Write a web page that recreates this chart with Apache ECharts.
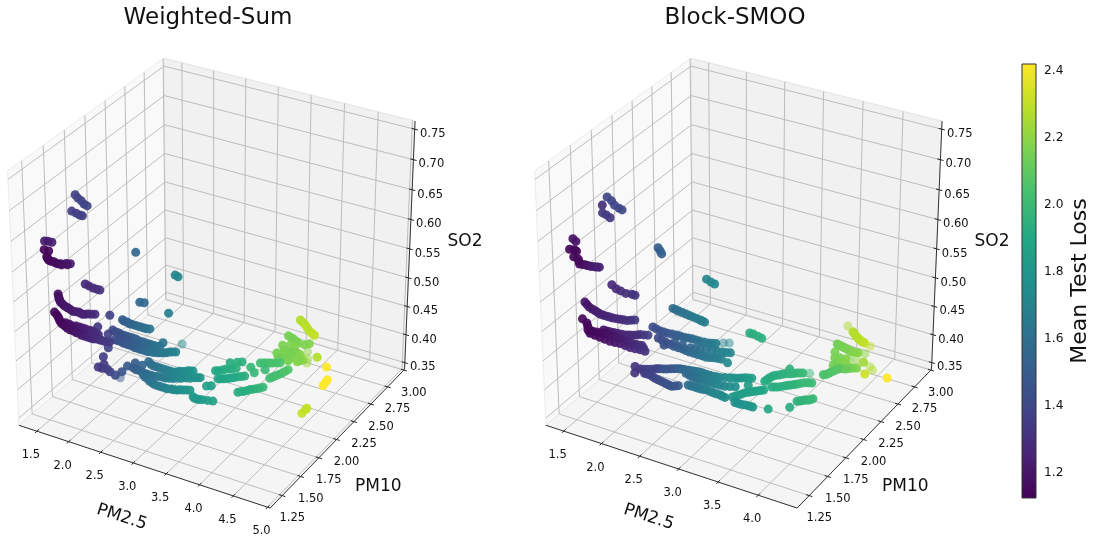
<!DOCTYPE html>
<html><head><meta charset="utf-8">
<style>html,body{margin:0;padding:0;background:#fff}#c{width:1094px;height:537px}</style>
<script src="https://cdn.jsdelivr.net/npm/echarts@6/dist/echarts.min.js"></script>
</head><body><div id="c"></div>
<script>
const FONT='"DejaVu Sans"';
const wsXTicks=[1.5,2.0,2.5,3.0,3.5,4.0,4.5,5.0];
const bsXTicks=[1.5,2.0,2.5,3.0,3.5,4.0];
const yTicks=[1.25,1.50,1.75,2.00,2.25,2.50,2.75,3.00];
const zTicks=[0.35,0.40,0.45,0.50,0.55,0.60,0.65,0.70,0.75];
const cbTicks=[1.2,1.4,1.6,1.8,2.0,2.2,2.4];

// Weighted-Sum
const wsPM25=[1.43,1.51,1.59,1.67,1.73,1.54,1.62,1.69,1.73,1.49,1.53,1.59,1.52,1.59,1.65,1.72,1.80,1.88,1.93,1.99,2.01,1.26,1.33,1.41,1.47,
1.52,1.43,1.51,1.57,1.67,1.74,1.84,1.91,1.99,2.05,2.13,1.58,1.60,1.65,1.71,1.77,1.43,1.49,2.32,1.39,1.50,1.58,1.68,1.76,1.86,
1.97,2.07,2.16,2.24,2.33,2.42,1.66,1.78,1.88,1.98,2.09,2.20,1.66,1.66,1.76,1.86,1.96,2.05,2.16,2.26,2.35,2.43,2.42,1.85,1.82,
1.92,2.02,2.11,2.22,2.32,2.40,2.49,2.56,2.62,2.69,1.84,1.97,2.12,2.28,1.63,1.72,1.80,1.90,2.00,2.08,1.60,1.68,1.74,1.81,1.88,
1.99,1.71,2.02,2.01,2.06,2.17,2.20,2.32,2.42,2.52,2.62,2.69,2.77,2.84,2.10,2.22,2.34,2.45,2.56,2.66,2.76,2.85,2.94,3.01,2.31,
2.42,2.53,2.64,2.73,2.82,2.90,2.97,3.05,3.17,3.24,3.31,3.45,3.19,3.24,3.03,3.10,3.17,3.24,3.10,3.18,3.23,3.40,3.51,3.60,3.46,
3.53,3.60,3.69,3.16,3.23,3.30,3.37,3.44,3.56,3.62,3.67,3.73,3.79,3.76,3.80,3.84,3.87,3.53,3.50,3.69,3.74,3.88,3.63,3.66,3.83,
3.58,3.59,3.78,3.93,3.45,3.55,3.66,3.76,3.80,3.90,4.06,4.29,4.47,4.46,4.45,3.60,3.72,3.85,3.96,4.45,4.45,4.45,
1.685,1.76,1.84,1.905,1.96,
1.47,1.54,1.62,1.705,1.79,1.875,1.95,2.02,2.09,
1.45,1.54,1.63,1.72,1.81,1.92,2.02,2.12,2.20,2.29,2.38,1.72,1.83,1.93,2.04,2.15,
1.71,1.81,1.91,2.00,2.10,2.21,2.30,2.39,1.87,1.97,2.06,2.16,2.27,2.36,2.44,2.52,2.59,2.65,1.67,1.76,1.85,1.95,2.04,
2.26,2.37,2.47,2.57,2.66,2.73,2.80,2.16,2.28,2.40,2.50,2.61,2.71,2.80,2.90,2.98,2.36,2.47,2.58,2.68,2.77,2.86,2.93,3.01,3.20,3.27,3.38,
3.06,3.13,3.20,3.50,3.565,3.645,3.195,3.265,3.335,3.405,3.59,3.645,3.70,3.76,3.78,3.82,3.855,3.60,3.68,3.72,3.58,3.78,3.64,3.76,3.50,3.605,
3.66,3.785,3.905];
const wsPM10=[1.69,1.66,1.64,1.61,1.60,1.56,1.55,1.54,1.54,1.27,1.28,1.28,1.24,1.24,1.17,1.14,1.14,1.13,1.13,1.15,1.17,1.91,1.90,1.89,1.89,
1.89,1.45,1.40,1.37,1.34,1.33,1.31,1.32,1.31,1.33,1.35,1.96,1.79,2.25,2.72,2.71,2.47,2.48,2.12,1.43,1.39,1.35,1.32,1.30,1.29,
1.28,1.27,1.27,1.28,1.28,1.29,1.35,1.34,1.35,1.35,1.35,1.33,1.87,1.93,1.92,1.91,1.91,1.91,1.90,1.90,1.90,1.91,1.96,1.72,1.83,
1.83,1.82,1.82,1.81,1.81,1.82,1.83,1.85,1.88,1.90,1.88,1.87,1.85,1.86,2.08,2.07,2.06,2.06,2.06,2.07,1.85,1.72,1.72,1.73,1.71,
1.69,1.77,1.75,1.83,1.89,1.89,1.95,1.92,1.92,1.92,1.92,1.95,1.98,2.00,1.83,1.82,1.81,1.81,1.83,1.84,1.87,1.90,1.93,1.95,1.79,
1.76,1.73,1.72,1.72,1.73,1.74,1.76,1.78,1.72,1.71,1.72,1.74,1.88,1.90,2.14,2.17,2.21,2.24,2.28,2.31,2.33,2.30,2.25,2.32,2.38,
2.40,2.42,2.45,2.06,2.08,2.11,2.15,2.18,1.98,2.01,2.05,2.08,2.12,2.24,2.29,2.34,2.40,2.55,2.66,2.60,2.51,2.52,2.50,2.68,2.61,
2.61,2.69,2.55,2.56,2.79,2.77,2.74,2.74,2.77,2.54,2.64,2.56,2.34,2.38,2.42,2.82,2.78,2.72,2.69,2.06,2.11,2.13,
1.155,1.135,1.13,1.14,1.16,
1.425,1.385,1.355,1.335,1.32,1.315,1.315,1.32,1.34,
1.41,1.37,1.33,1.31,1.29,1.28,1.27,1.27,1.27,1.28,1.28,1.35,1.35,1.35,1.35,1.34,
1.92,1.91,1.91,1.91,1.90,1.90,1.90,1.90,1.83,1.82,1.82,1.81,1.81,1.81,1.82,1.84,1.86,1.89,2.07,2.06,2.06,2.06,2.06,
1.93,1.92,1.92,1.92,1.93,1.96,1.99,1.82,1.81,1.81,1.82,1.83,1.85,1.88,1.91,1.94,1.77,1.74,1.72,1.72,1.72,1.73,1.75,1.77,1.71,1.71,1.73,
2.15,2.19,2.22,2.39,2.41,2.435,2.07,2.095,2.13,2.165,2.00,2.03,2.065,2.10,2.265,2.315,2.37,2.60,2.55,2.63,2.52,2.62,2.59,2.50,2.78,2.755,
2.80,2.75,2.705];
const wsSO2=[.67,.67,.67,.67,.67,.66,.66,.66,.66,.64,.64,.64,.63,.63,.63,.63,.63,.63,.63,.63,.63,.49,.49,.49,.49,.49,
.53,.53,.53,.53,.53,.53,.53,.53,.53,.53,.44,.44,.52,.43,.43,.40,.40,.45,
.50,.50,.50,.50,.50,.50,.50,.50,.50,.50,.50,.50,.50,.50,.50,.50,.50,.50,
.42,.42,.42,.42,.42,.42,.42,.42,.42,.42,.42,.42,.42,.42,.42,.42,.42,.42,.42,.42,.42,.42,.42,.42,.42,.42,.42,.42,.42,.42,.42,.42,.42,
.38,.38,.38,.38,.38,.38,.38,.38,.38,.38,.38,.38,.38,.38,.38,.38,.38,.38,.38,.38,.38,.38,.38,.38,.38,.38,.38,.38,.38,.38,.38,.38,.38,.38,.38,.38,.38,.38,.38,.38,.38,.38,.38,.38,
.37,.37,.37,.37,.37,.37,.37,.37,.37,.37,.37,.37,.37,.37,.37,.37,.37,.37,.37,.37,.37,.37,.37,.37,.37,.37,.37,.37,.37,.37,.37,.37,.37,.37,.37,.37,.37,.37,.37,.37,.37,.37,.37,.37,.37,.37,.37,.37,.37,.37,.37,
.40,.40,.40,.40,.355,.355,.355,
.63,.63,.63,.63,.63,
.53,.53,.53,.53,.53,.53,.53,.53,.53,
.50,.50,.50,.50,.50,.50,.50,.50,.50,.50,.50,.50,.50,.50,.50,.50,
.42,.42,.42,.42,.42,.42,.42,.42,.42,.42,.42,.42,.42,.42,.42,.42,.42,.42,.42,.42,.42,.42,.42,
.38,.38,.38,.38,.38,.38,.38,.38,.38,.38,.38,.38,.38,.38,.38,.38,.38,.38,.38,.38,.38,.38,.38,.38,.38,.38,.38,
.37,.37,.37,.37,.37,.37,.37,.37,.37,.37,.37,.37,.37,.37,.37,.37,.37,.37,.37,.37,.37,.37,.37,.37,.37,.37,
.40,.40,.40];
const wsLoss=[1.38,1.38,1.39,1.39,1.40,1.36,1.36,1.37,1.37,1.22,1.22,1.23,1.15,1.15,1.14,1.14,1.15,1.16,1.18,1.2,1.22,1.27,1.28,1.29,1.30,1.31,
1.18,1.18,1.19,1.2,1.21,1.22,1.24,1.25,1.26,1.28,1.38,1.33,1.55,1.72,1.72,1.55,1.56,1.68,
1.14,1.14,1.15,1.16,1.17,1.19,1.21,1.23,1.26,1.28,1.31,1.34,1.17,1.19,1.21,1.24,1.27,1.29,
1.37,1.41,1.43,1.46,1.49,1.52,1.54,1.57,1.6,1.62,1.63,1.39,1.41,1.45,1.48,1.5,1.53,1.56,1.6,1.62,1.65,1.68,1.7,1.44,1.47,1.51,1.56,1.5,1.52,1.54,1.57,1.59,1.62,
1.36,1.34,1.34,1.36,1.37,1.42,1.35,1.46,1.48,1.5,1.55,1.57,1.6,1.63,1.67,1.7,1.72,1.76,1.78,1.5,1.54,1.57,1.61,1.64,1.68,1.72,1.75,1.78,1.8,1.58,1.6,1.62,1.66,1.68,1.72,1.74,1.77,1.8,1.81,1.82,1.83,1.86,1.85,1.85,
1.9,1.92,1.93,1.95,1.93,1.94,1.94,1.98,1.98,2.0,2.02,2.03,2.04,2.05,1.88,1.89,1.9,1.92,1.94,1.93,1.94,1.95,1.97,1.99,2.02,2.03,2.05,2.06,2.14,2.16,2.15,2.14,2.18,2.13,2.18,2.18,2.15,2.16,2.16,2.2,2.15,2.15,2.16,2.17,2.18,2.17,2.27,2.42,2.42,2.42,2.42,
2.27,2.28,2.28,2.3,2.3,2.3,2.3,
1.145,1.155,1.17,1.19,1.21,
1.18,1.185,1.195,1.205,1.215,1.23,1.245,1.255,1.27,
1.14,1.15,1.15,1.17,1.18,1.2,1.22,1.25,1.27,1.3,1.33,1.18,1.2,1.22,1.25,1.28,
1.42,1.44,1.47,1.5,1.53,1.55,1.58,1.61,1.43,1.46,1.49,1.51,1.54,1.58,1.61,1.63,1.66,1.69,1.51,1.53,1.55,1.58,1.6,
1.6,1.61,1.65,1.68,1.71,1.74,1.77,1.52,1.55,1.59,1.62,1.66,1.7,1.73,1.76,1.79,1.59,1.61,1.64,1.67,1.7,1.73,1.75,1.78,1.815,1.82,1.84,
1.91,1.925,1.94,2.025,2.035,2.045,1.885,1.895,1.91,1.93,1.935,1.945,1.96,1.98,2.025,2.04,2.055,2.16,2.16,2.16,2.16,2.16,2.16,2.16,2.15,2.15,
2.275,2.28,2.29];
const wsFarPM25=[2.08,2.66,3.88,3.97,4.01];
const wsFarPM10=[1.68,2.01,2.67,2.59,2.54];
const wsFarSO2=[.38,.42,.37,.37,.37];
const wsFarLoss=[1.5,1.75,2.2,2.22,2.22];

// Block-SMOO
const bsPM25=[1.52,1.61,1.69,1.77,1.82,1.42,1.52,1.58,1.65,1.48,1.54,1.50,1.55,1.59,1.63,1.70,1.77,1.83,1.89,1.95,1.99,1.45,1.54,1.61,1.69,
1.76,1.80,1.60,1.66,1.71,1.84,1.92,1.98,1.54,1.64,1.74,1.83,1.91,1.99,2.07,2.15,2.22,1.50,1.59,1.68,1.74,1.83,1.92,2.01,2.10,
2.20,2.29,2.37,2.46,1.83,1.91,2.00,2.10,2.17,2.23,2.31,1.74,1.88,2.02,2.14,2.28,2.40,1.58,1.67,1.78,1.88,1.99,2.06,1.53,1.65,
1.75,1.86,1.96,2.06,2.16,2.27,2.35,1.78,1.90,2.03,2.14,2.25,2.36,2.47,2.55,2.64,1.92,1.99,2.21,2.32,2.45,2.57,2.66,2.74,1.68,
1.75,1.76,1.83,1.90,1.95,2.02,2.09,2.15,2.23,2.31,2.38,2.47,2.56,2.64,2.74,2.82,2.89,2.96,3.00,1.85,1.92,2.01,2.10,2.18,2.26,
2.32,2.26,2.37,2.47,2.57,2.67,2.78,2.89,2.41,2.49,2.58,2.65,2.74,2.82,2.90,2.97,3.01,3.05,3.10,3.15,3.20,3.05,3.12,3.19,3.27,
3.44,2.51,2.56,2.63,2.69,3.12,3.13,3.15,3.20,3.24,3.30,3.35,3.41,3.24,3.25,3.31,3.37,3.42,3.47,3.53,3.60,3.64,3.68,3.70,3.74,
3.77,3.63,3.63,3.66,3.68,3.70,3.73,3.79,3.84,3.89,3.57,3.63,3.64,3.69,3.76,3.82,3.51,3.62,3.69,3.45,3.51,3.57,3.63,3.69,3.75,
3.65,3.71,3.77,3.83,3.88,3.90,4.03,4.29,
1.735,1.80,1.86,1.92,1.97,
1.59,1.69,1.785,1.87,1.95,2.03,2.11,2.185,
1.635,1.71,1.785,1.875,1.965,2.055,2.15,2.245,2.33,2.415,1.87,1.955,2.05,2.135,2.20,2.27,1.81,1.95,2.08,2.21,2.34,
1.59,1.70,1.805,1.91,2.01,2.11,2.215,2.31,
1.84,1.965,2.085,2.195,2.305,2.415,2.51,2.595,2.10,2.265,2.385,2.51,2.615,1.625,1.725,1.83,1.935,2.025,
1.795,1.865,1.925,1.985,2.055,2.12,2.19,2.27,2.345,2.425,2.515,2.60,2.69,2.78,2.855,2.925,
1.885,1.965,2.055,2.14,2.22,2.29,2.315,2.42,2.52,2.62,2.725,2.835,2.45,2.535,2.615,2.695,2.78,2.86,
2.99,3.03,3.075,3.125,3.175,3.085,3.155,3.23,
3.125,3.14,3.175,3.22,3.27,3.325,3.38,3.28,3.34,3.395,3.445,3.50,3.565,3.66,3.69,3.72,3.755,
3.645,3.67,3.69,3.715,3.76,3.815,3.865,3.48,3.54,3.60,3.66,3.72,
3.68,3.74,3.80,3.855];
const bsPM10=[1.68,1.65,1.61,1.59,1.58,1.71,1.62,1.61,1.59,1.30,1.28,1.24,1.25,1.24,1.17,1.16,1.11,1.12,1.12,1.13,1.14,1.77,1.74,1.73,1.72,
1.73,1.73,2.22,2.19,2.16,2.62,2.60,2.59,1.36,1.32,1.30,1.28,1.28,1.28,1.29,1.30,1.33,1.36,1.33,1.26,1.26,1.27,1.27,1.27,1.27,
1.26,1.26,1.27,1.22,1.31,1.31,1.32,1.33,1.35,1.38,1.40,1.23,1.22,1.21,1.22,1.21,1.22,2.42,2.41,2.40,2.39,2.38,2.37,2.20,2.18,
2.18,2.19,2.19,2.20,2.20,2.21,2.23,2.03,2.01,1.99,1.99,1.98,1.98,1.98,2.00,2.01,1.97,2.04,2.03,2.05,2.08,2.09,2.11,1.99,1.82,
1.75,1.81,1.83,1.86,1.88,1.90,1.93,1.95,1.96,1.97,1.98,1.98,1.98,1.99,2.02,2.04,2.07,2.09,2.00,1.78,1.78,1.76,1.75,1.74,1.73,
1.76,1.92,1.90,1.89,1.90,1.90,1.91,1.94,1.80,1.80,1.80,1.81,1.80,1.80,1.79,1.82,1.86,1.91,1.94,1.97,2.00,1.77,1.77,1.78,1.78,
1.81,2.53,2.53,2.52,2.51,2.10,2.15,2.19,2.22,2.25,2.27,2.30,2.32,2.32,2.06,2.08,2.12,2.15,2.18,2.22,2.24,1.99,2.01,2.03,2.04,
2.07,1.90,2.37,2.39,2.43,2.46,2.50,2.51,2.54,2.56,2.60,2.51,2.56,2.57,2.56,2.54,2.67,2.62,2.63,2.77,2.76,2.75,2.74,2.73,2.74,
2.77,2.74,2.71,2.69,2.68,2.65,2.52,2.55,
1.135,1.115,1.12,1.125,1.135,
1.34,1.31,1.29,1.28,1.28,1.285,1.295,1.315,
1.30,1.26,1.265,1.27,1.27,1.27,1.265,1.26,1.265,1.245,1.31,1.315,1.325,1.34,1.365,1.39,1.225,1.215,1.215,1.215,1.215,
2.19,2.18,2.185,2.19,2.195,2.20,2.205,2.22,
2.02,2.00,1.99,1.985,1.98,1.98,1.99,2.005,2.035,2.04,2.065,2.085,2.10,2.415,2.405,2.395,2.385,2.375,
1.82,1.845,1.87,1.89,1.915,1.94,1.955,1.965,1.975,1.98,1.98,1.985,2.005,2.03,2.055,2.08,
1.78,1.77,1.755,1.745,1.735,1.745,1.91,1.895,1.895,1.905,1.905,1.925,1.80,1.80,1.805,1.805,1.80,1.795,
1.84,1.885,1.925,1.955,1.985,1.77,1.775,1.78,
2.125,2.17,2.205,2.235,2.26,2.285,2.31,2.07,2.10,2.135,2.165,2.20,2.23,2.00,2.02,2.035,2.055,
2.38,2.41,2.445,2.48,2.505,2.525,2.55,2.765,2.755,2.745,2.735,2.735,
2.755,2.725,2.70,2.685];
const bsSO2=[.67,.67,.67,.67,.67,.65,.65,.65,.65,.64,.64,.63,.63,.63,.63,.63,.63,.63,.63,.63,.63,.51,.51,.51,.51,.51,.51,.53,.53,.53,.44,.44,.44,
.53,.53,.53,.53,.53,.53,.53,.53,.53,.50,.50,.50,.50,.50,.50,.50,.50,.50,.50,.50,.50,.50,.50,.50,.50,.50,.50,.50,.50,.50,.50,.50,.50,.50,
.40,.40,.40,.40,.40,.40,.39,.39,.39,.39,.39,.39,.39,.39,.39,.40,.40,.40,.40,.40,.40,.40,.40,.40,.40,.40,.40,.40,.40,.40,.40,.40,
.37,.37,.37,.37,.37,.37,.37,.37,.37,.37,.37,.37,.37,.37,.37,.37,.37,.37,.37,.37,.37,.37,.37,.37,.37,.37,.37,.37,.37,.37,.37,.37,.37,.37,.37,.37,.37,.37,.37,.37,.37,.37,.37,.37,.37,.37,.37,.37,.37,.37,.37,.37,
.38,.38,.38,.38,
.37,.37,.37,.37,.37,.37,.37,.37,.37,.37,.37,.37,.37,.37,.37,.37,.37,.37,.37,.37,.37,.37,.37,.37,.37,.37,.37,.37,.37,.37,.37,.37,.37,.37,.37,.37,.37,.37,.37,.37,.37,.37,.37,.37,.37,
.40,.40,.40,.40,.40,.37,.37,.37,
.63,.63,.63,.63,.63,
.53,.53,.53,.53,.53,.53,.53,.53,
.50,.50,.50,.50,.50,.50,.50,.50,.50,.50,.50,.50,.50,.50,.50,.50,.50,.50,.50,.50,.50,
.39,.39,.39,.39,.39,.39,.39,.39,
.40,.40,.40,.40,.40,.40,.40,.40,.40,.40,.40,.40,.40,.40,.40,.40,.40,.40,
.37,.37,.37,.37,.37,.37,.37,.37,.37,.37,.37,.37,.37,.37,.37,.37,
.37,.37,.37,.37,.37,.37,.37,.37,.37,.37,.37,.37,.37,.37,.37,.37,.37,.37,
.37,.37,.37,.37,.37,.37,.37,.37,
.37,.37,.37,.37,.37,.37,.37,.37,.37,.37,.37,.37,.37,.37,.37,.37,.37,
.37,.37,.37,.37,.37,.37,.37,.37,.37,.37,.37,.37,
.40,.40,.40,.40];
const bsLoss=[1.39,1.39,1.4,1.4,1.41,1.3,1.33,1.34,1.34,1.2,1.2,1.14,1.14,1.15,1.14,1.15,1.16,1.18,1.2,1.23,1.25,1.27,1.28,1.29,1.3,1.31,1.32,1.51,1.52,1.53,1.72,1.72,1.73,
1.2,1.21,1.22,1.24,1.25,1.27,1.29,1.31,1.33,1.15,1.15,1.14,1.15,1.16,1.18,1.2,1.22,1.25,1.27,1.3,1.32,1.19,1.2,1.23,1.26,1.29,1.31,1.36,1.14,1.16,1.19,1.22,1.26,1.3,
1.58,1.6,1.62,1.64,1.66,1.68,1.42,1.44,1.47,1.5,1.53,1.56,1.6,1.64,1.68,1.41,1.44,1.48,1.52,1.56,1.6,1.63,1.66,1.69,1.44,1.5,1.55,1.6,1.65,1.7,1.72,1.73,
1.32,1.32,1.34,1.37,1.4,1.42,1.46,1.5,1.53,1.56,1.6,1.62,1.66,1.68,1.72,1.76,1.79,1.82,1.84,1.83,1.36,1.38,1.4,1.42,1.44,1.46,1.48,1.56,1.58,1.62,1.66,1.7,1.72,1.76,1.6,1.62,1.65,1.68,1.7,1.72,1.74,1.82,1.84,1.85,1.87,1.88,1.9,1.76,1.77,1.79,1.8,1.9,
1.93,1.93,1.94,1.94,
1.92,1.92,1.93,1.95,1.96,1.97,1.98,1.99,1.96,1.92,1.94,1.95,1.96,1.98,2.0,2.0,1.96,1.97,1.98,1.98,1.99,1.93,2.05,2.06,2.07,2.08,2.09,2.12,2.15,2.18,2.15,2.14,2.15,2.17,2.18,2.2,2.15,2.15,2.18,2.14,2.15,2.15,2.16,2.17,2.19,
2.27,2.27,2.28,2.28,2.3,2.23,2.32,2.43,
1.155,1.17,1.19,1.215,1.24,
1.205,1.215,1.23,1.245,1.26,1.28,1.3,1.32,
1.14,1.15,1.16,1.17,1.19,1.21,1.235,1.26,1.285,1.31,1.195,1.215,1.245,1.275,1.3,1.335,1.15,1.175,1.205,1.24,1.28,
1.43,1.455,1.485,1.515,1.545,1.58,1.62,1.66,
1.425,1.46,1.5,1.54,1.58,1.615,1.645,1.675,1.525,1.575,1.625,1.675,1.71,1.59,1.61,1.63,1.65,1.67,
1.355,1.385,1.41,1.44,1.48,1.515,1.545,1.58,1.61,1.64,1.67,1.7,1.74,1.775,1.805,1.83,
1.37,1.39,1.41,1.43,1.45,1.47,1.57,1.6,1.64,1.68,1.71,1.74,1.61,1.635,1.665,1.69,1.71,1.73,
1.83,1.845,1.86,1.875,1.89,1.765,1.78,1.795,
1.92,1.925,1.94,1.955,1.965,1.975,1.985,1.93,1.945,1.955,1.97,1.99,2.0,1.965,1.975,1.985,1.985,
2.055,2.065,2.075,2.085,2.105,2.135,2.165,2.145,2.15,2.155,2.165,2.18,
2.27,2.275,2.28,2.29];
const bsFarPM25=[2.42,2.48,3.54,3.97,3.83,4.01,4.07,3.74,3.81,3.48];
const bsFarPM10=[2.26,2.28,2.82,2.66,2.75,2.62,2.59,2.63,2.65,2.34];
const bsFarSO2=[.39,.39,.40,.40,.37,.37,.37,.37,.37,.37];
const bsFarLoss=[1.7,1.72,2.26,2.3,2.2,2.26,2.27,2.17,2.2,2.0];

const viridis=['#440154','#482475','#414487','#355f8d','#2a788e','#21918c','#22a884','#44bf70','#7ad151','#bddf26','#fde725'];
const lossMin=1.124,lossMax=2.42;
const panels=[
 {title:'Weighted-Sum',xr:[1.213,5.038],yr:[1.09,3.01],zr:[0.3377,0.7632],xt:wsXTicks,off:0,near:[wsPM25,wsPM10,wsSO2,wsLoss],far:[wsFarPM25,wsFarPM10,wsFarSO2,wsFarLoss]},
 {title:'Block-SMOO',xr:[1.262,4.479],yr:[1.09,3.01],zr:[0.3377,0.7632],xt:bsXTicks,off:527,near:[bsPM25,bsPM10,bsSO2,bsLoss],far:[bsFarPM25,bsFarPM10,bsFarSO2,bsFarLoss]}
];
// mplot3d view: elev 30, azim -60, focal length 1, cubic box
function project(p,x,y,z){
 const dx=((x-p.xr[0])/(p.xr[1]-p.xr[0])-.5)*1.1,dy=((y-p.yr[0])/(p.yr[1]-p.yr[0])-.5)*1.1,dz=((z-p.zr[0])/(p.zr[1]-p.zr[0])-.5)*1.1;
 const U=[.8660254,.5,0],V=[-.25,.4330127,.8660254],W=[.4330127,-.75,.5];
 const u=U[0]*dx+U[1]*dy,v=V[0]*dx+V[1]*dy+V[2]*dz,w=W[0]*dx+W[1]*dy+W[2]*dz;
 return [215+p.off+2636*u/(10-w),274.7-2636*v/(10-w),w];
}
const series=[],scatterIdx=[];
function shapes(list,z){
 series.push({type:'custom',coordinateSystem:'cartesian2d',xAxisIndex:0,yAxisIndex:0,silent:true,clip:false,z:z,
  data:list.map((_,i)=>[i]),encode:{x:0,y:0},animation:false,
  renderItem:(params,api)=>{
   const s=list[params.dataIndex];
   if(s.text!==undefined){const c=api.coord(s.at);
    return {type:'text',x:c[0],y:c[1]+1.5,rotation:s.rot||0,style:{text:s.text,x:0,y:0,align:'center',verticalAlign:'middle',fontFamily:FONT,fontSize:s.size,fill:'#111'}};}
   const pts=s.pts.map(q=>api.coord(q));
   return s.fill?{type:'polygon',shape:{points:pts},style:{fill:s.fill,stroke:s.stroke,lineWidth:1}}
                :{type:'polyline',shape:{points:pts},style:{fill:null,stroke:s.stroke,lineWidth:s.w||1}};
  }});
}
function marks(p,cols,opacity,z){
 const n=Math.min(cols[0].length,cols[1].length,cols[2].length,cols[3].length);
 const rows=cols[0].slice(0,n).map((_,i)=>{const q=project(p,cols[0][i],cols[1][i],cols[2][i]);return [q[0],q[1],cols[3][i],q[2]];});
 rows.sort((a,b)=>a[3]-b[3]);
 scatterIdx.push(series.length);
 series.push({type:'scatter',xAxisIndex:0,yAxisIndex:0,symbolSize:9,silent:true,clip:false,z:z,animation:false,
  itemStyle:{opacity:opacity,borderWidth:0},data:rows.map(r=>r.slice(0,3))});
}
panels.forEach(p=>{
 const [x0,x1]=p.xr,[y0,y1]=p.yr,[z0,z1]=p.zr,P=(a,b,c)=>project(p,a,b,c).slice(0,2);
 const xs=(x1-x0),ys=(y1-y0);
 const panes=[
  {pts:[P(x0,y0,z0),P(x0,y1,z0),P(x0,y1,z1),P(x0,y0,z1)],fill:'#f9f9f9',stroke:'#ececec'},
  {pts:[P(x0,y1,z0),P(x1,y1,z0),P(x1,y1,z1),P(x0,y1,z1)],fill:'#f1f1f1',stroke:'#e4e4e4'},
  {pts:[P(x0,y0,z0),P(x1,y0,z0),P(x1,y1,z0),P(x0,y1,z0)],fill:'#f5f5f5',stroke:'#e8e8e8'}];
 const grid=[],axis=[],text=[];
 const G='#bdbdbd';
 p.xt.forEach(t=>{grid.push({pts:[P(t,y0,z0),P(t,y1,z0),P(t,y1,z1)],stroke:G});
  axis.push({pts:[P(t,y0+.012*ys,z0),P(t,y0-.012*ys,z0)],stroke:'#222'});
  const q=P(t,y0,z0);text.push({text:t.toFixed(1),at:[q[0]-6,q[1]+22.5],size:11.5});});
 yTicks.forEach(t=>{grid.push({pts:[P(x1,t,z0),P(x0,t,z0),P(x0,t,z1)],stroke:G});
  axis.push({pts:[P(x1-.012*xs,t,z0),P(x1+.012*xs,t,z0)],stroke:'#222'});
  const q=P(x1,t,z0);text.push({text:t.toFixed(2),at:[q[0]+10,q[1]+21],size:11.5});});
 zTicks.forEach(t=>{grid.push({pts:[P(x0,y0,t),P(x0,y1,t),P(x1,y1,t)],stroke:G});
  axis.push({pts:[P(x1-.012*xs,y1,t),P(x1+.012*xs,y1,t)],stroke:'#222'});
  const q=P(x1,y1,t);text.push({text:t.toFixed(2),at:[q[0]+18,q[1]+3.3],size:11.5});});
 axis.push({pts:[P(x0,y0,z0),P(x1,y0,z0),P(x1,y1,z0),P(x1,y1,z1)],stroke:'#333'});
 const o=p.off;
 text.push({text:'PM2.5',at:[121.7+o,515.7],size:17,rot:-18*Math.PI/180});
 text.push({text:'PM10',at:[378.3+o,485.5],size:17});
 text.push({text:'SO2',at:[465+o,240],size:17});
 text.push({text:p.title,at:[208+o,17],size:23});
 shapes(panes,1);shapes(grid,2);shapes(axis,3);shapes(text,4);
 marks(p,p.far,.5,5);
 marks(p,p.near,.92,6);
});
series.push({type:'custom',coordinateSystem:'cartesian2d',xAxisIndex:1,yAxisIndex:1,silent:true,clip:false,z:3,animation:false,
 data:[[0,lossMin]],encode:{x:0,y:1},
 renderItem:(params,api)=>{const a=api.coord([0,lossMax]),b=api.coord([1,lossMin]);
  return {type:'rect',shape:{x:a[0],y:a[1],width:b[0]-a[0],height:b[1]-a[1]},
   style:{fill:new echarts.graphic.LinearGradient(0,1,0,0,viridis.map((c,i)=>({offset:i/(viridis.length-1),color:c}))),stroke:'#333',lineWidth:1}};}});
const chart=echarts.init(document.getElementById('c'),null,{renderer:'canvas'});
chart.setOption({animation:false,backgroundColor:'#fff',
 grid:[{left:0,top:0,width:1094,height:537,show:false},{left:1022,top:64,width:14,height:434,show:false}],
 xAxis:[{type:'value',min:0,max:1094,show:false,gridIndex:0},{type:'value',min:0,max:1,show:false,gridIndex:1}],
 yAxis:[{type:'value',min:0,max:537,inverse:true,show:false,gridIndex:0},
  {type:'value',gridIndex:1,min:lossMin,max:lossMax,position:'right',splitLine:{show:false},
   axisLine:{show:false},axisTick:{show:true,length:4,lineStyle:{color:'#222'},customValues:cbTicks},
   axisLabel:{fontFamily:FONT,fontSize:12.2,color:'#111',margin:8,customValues:cbTicks,formatter:v=>v.toFixed(1)},
   name:'Mean Test Loss',nameLocation:'middle',nameRotate:90,nameGap:33,nameTextStyle:{fontFamily:FONT,fontSize:22,color:'#111'}}],
 visualMap:{type:'continuous',show:false,min:lossMin,max:lossMax,dimension:2,seriesIndex:scatterIdx,inRange:{color:viridis}},
 series:series
});
</script></body></html>
